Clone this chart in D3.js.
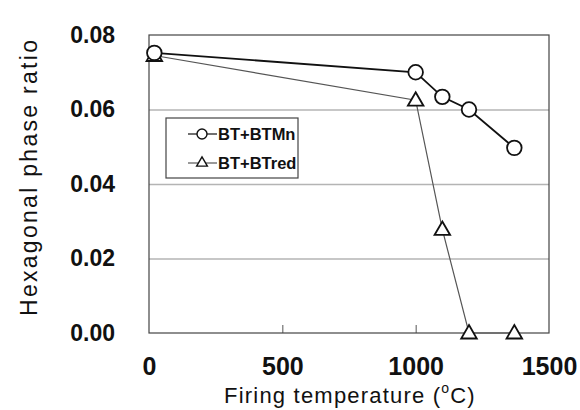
<!DOCTYPE html>
<html>
<head>
<meta charset="utf-8">
<script src="https://cdn.jsdelivr.net/npm/d3@7"></script>
<style>
  body { margin: 0; background: #fff; }
  svg { display: block; font-family: Arial, "Liberation Sans", sans-serif; }
</style>
</head>
<body>
<svg id="chart" width="580" height="410"></svg>
<script>
// data
const tempMn = [20, 1000, 1100, 1200, 1370];
const ratioMn = [0.0752, 0.0700, 0.0634, 0.0600, 0.0497];
const tempRed = [20, 1000, 1100, 1200, 1370];
const ratioRed = [0.0745, 0.0625, 0.0278, 0.0, 0.0];
const xTicks = [0, 500, 1000, 1500];
const yTicks = [0, 0.02, 0.04, 0.06, 0.08];
const seriesNames = ["BT+BTMn", "BT+BTred"];

const svg = d3.select("#chart");
const width = 580, height = 410;
const margin = { top: 35, right: 31, bottom: 77, left: 149 };
const innerWidth = width - margin.left - margin.right;
const innerHeight = height - margin.top - margin.bottom;

const x = d3.scaleLinear().domain([0, 1500]).range([0, innerWidth]);
const y = d3.scaleLinear().domain([0, 0.08]).range([innerHeight, 0]);

const g = svg.append("g").attr("transform", `translate(${margin.left},${margin.top})`);

// horizontal gridlines
g.append("g")
    .call(d3.axisLeft(y).tickValues(yTicks.slice(1, 4)).tickSize(-innerWidth).tickFormat(""))
    .call(s => s.select(".domain").remove())
    .selectAll("line")
    .attr("stroke", "#b4b4b4")
    .attr("stroke-width", 1.6);

// x ticks pointing inward from the bottom
g.append("g")
    .attr("transform", `translate(0,${innerHeight})`)
    .call(d3.axisTop(x).tickValues([500, 1000]).tickSize(8).tickFormat(""))
    .call(s => s.select(".domain").remove())
    .selectAll("line")
    .attr("stroke", "#555");

// plot border
g.append("rect")
    .attr("width", innerWidth)
    .attr("height", innerHeight)
    .attr("fill", "none")
    .attr("stroke", "#444")
    .attr("stroke-width", 1.2);

// y tick labels
const yAxis = g.append("g")
    .call(d3.axisLeft(y).tickValues(yTicks).tickSize(0).tickPadding(34).tickFormat(d3.format(".2f")));
yAxis.select(".domain").remove();
yAxis.selectAll("text")
    .attr("font-family", "Arial, 'Liberation Sans', sans-serif")
    .attr("font-size", 23)
    .attr("font-weight", "bold")
    .attr("fill", "#111");

// x tick labels
const xAxis = g.append("g")
    .attr("transform", `translate(0,${innerHeight})`)
    .call(d3.axisBottom(x).tickValues(xTicks).tickSize(0).tickPadding(24).tickFormat(d3.format("d")));
xAxis.select(".domain").remove();
xAxis.selectAll("text")
    .attr("font-family", "Arial, 'Liberation Sans', sans-serif")
    .attr("font-size", 25)
    .attr("font-weight", "bold")
    .attr("fill", "#111");

// axis titles
const xTitle = svg.append("text")
    .attr("x", 350)
    .attr("y", 403)
    .attr("text-anchor", "middle")
    .attr("font-size", 22)
    .attr("letter-spacing", 1.2)
    .attr("fill", "#111");
xTitle.append("tspan").text("Firing temperature (");
xTitle.append("tspan").attr("font-size", 14).attr("dy", -10).text("o");
xTitle.append("tspan").attr("dy", 10).text("C)");

svg.append("text")
    .attr("transform", "translate(37,178) rotate(-90)")
    .attr("text-anchor", "middle")
    .attr("font-size", 23)
    .attr("fill", "#111")
    .attr("textLength", 276)
    .attr("lengthAdjust", "spacing")
    .text("Hexagonal phase ratio");

// series
const mnData = tempMn.map((t, i) => ({ t: t, v: ratioMn[i] }));
const redData = tempRed.map((t, i) => ({ t: t, v: ratioRed[i] }));

const line = d3.line().x(d => x(d.t)).y(d => y(d.v));

g.append("path")
    .datum(redData)
    .attr("d", line)
    .attr("fill", "none")
    .attr("stroke", "#555")
    .attr("stroke-width", 1.2);

g.append("path")
    .datum(mnData)
    .attr("d", line)
    .attr("fill", "none")
    .attr("stroke", "#111")
    .attr("stroke-width", 1.8);

const tri = d3.symbol().type(d3.symbolTriangle).size(105);

g.selectAll(".tri")
    .data(redData)
    .enter()
    .append("path")
    .attr("class", "tri")
    .attr("d", tri)
    .attr("transform", d => `translate(${x(d.t)},${y(d.v) + 1})`)
    .attr("fill", "#fff")
    .attr("stroke", "#111")
    .attr("stroke-width", 1.8);

g.selectAll(".circ")
    .data(mnData)
    .enter()
    .append("circle")
    .attr("class", "circ")
    .attr("cx", d => x(d.t))
    .attr("cy", d => y(d.v))
    .attr("r", 7.3)
    .attr("fill", "#fff")
    .attr("stroke", "#111")
    .attr("stroke-width", 1.8);

// legend
const legend = svg.append("g").attr("transform", "translate(166,118)");
legend.append("rect")
    .attr("width", 132)
    .attr("height", 60)
    .attr("fill", "#fff")
    .attr("stroke", "#444")
    .attr("stroke-width", 1.2);

seriesNames.forEach((name, i) => {
    const cy = 16 + i * 29;
    legend.append("line")
        .attr("x1", 22).attr("x2", 51)
        .attr("y1", cy).attr("y2", cy)
        .attr("stroke", i === 0 ? "#111" : "#555")
        .attr("stroke-width", 1.2);
    if (i === 0) {
        legend.append("circle")
            .attr("cx", 36).attr("cy", cy).attr("r", 5)
            .attr("fill", "#fff").attr("stroke", "#111").attr("stroke-width", 1.4);
    } else {
        legend.append("path")
            .attr("d", d3.symbol().type(d3.symbolTriangle).size(50))
            .attr("transform", `translate(36,${cy})`)
            .attr("fill", "#fff").attr("stroke", "#111").attr("stroke-width", 1.4);
    }
    legend.append("text")
        .attr("x", 52)
        .attr("y", cy + 6)
        .attr("font-size", 16.5)
        .attr("font-weight", "bold")
        .attr("fill", "#111")
        .text(name);
});
</script>
</body>
</html>
